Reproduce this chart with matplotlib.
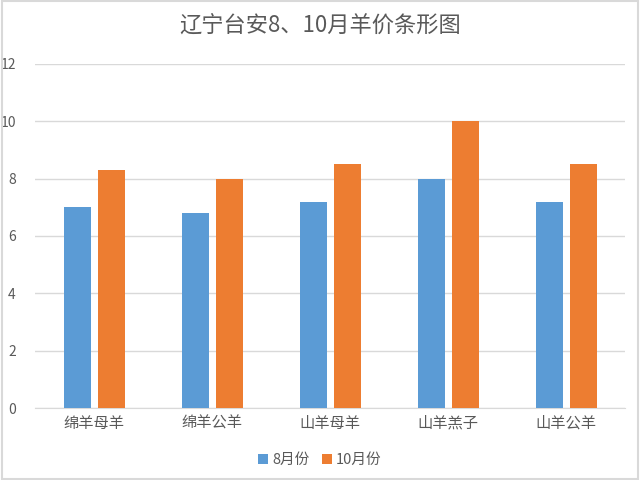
import numpy as np
import matplotlib.pyplot as plt
from matplotlib.patches import Rectangle

plt.rcParams["font.family"] = ["Noto Sans CJK SC", "DejaVu Sans"]

TITLE = "辽宁台安8、10月羊价条形图"
CATEGORIES = ["绵羊母羊", "绵羊公羊", "山羊母羊", "山羊羔子", "山羊公羊"]
AUG = [7.0, 6.8, 7.2, 8.0, 7.2]
OCT = [8.3, 8.0, 8.5, 10.0, 8.5]
SERIES_NAMES = ["8月份", "10月份"]

BLUE = "#5B9BD5"
ORANGE = "#ED7D31"
GRAY = "#595959"


def main():
    fig = plt.figure(figsize=(6.4, 4.8), dpi=100)
    ax = fig.add_axes([0.055, 0.15, 0.922, 0.717])

    x = np.arange(len(CATEGORIES))
    w = 0.23
    off = 0.145
    ax.bar(x - off, AUG, width=w, color=BLUE, label=SERIES_NAMES[0], zorder=3)
    ax.bar(x + off, OCT, width=w, color=ORANGE, label=SERIES_NAMES[1], zorder=3)

    ax.set_xlim(-0.5, len(CATEGORIES) - 0.5)
    ax.set_ylim(0, 12)
    ax.set_yticks(range(0, 13, 2))
    ax.set_xticks(x)
    ax.set_xticklabels(CATEGORIES, fontsize=11)
    ax.tick_params(axis="both", length=0, colors=GRAY)
    ax.tick_params(axis="y", labelsize=10, pad=14)
    ax.tick_params(axis="x", pad=5)
    ax.grid(True, axis="y", color="#D9D9D9", linewidth=1, zorder=0)
    for s in ["top", "right", "left"]:
        ax.spines[s].set_visible(False)
    ax.spines["bottom"].set_color("#D9D9D9")

    fig.suptitle(TITLE, y=0.97, fontsize=16, color=GRAY)
    fig.legend(loc="lower center", bbox_to_anchor=(0.5, 0.0), ncol=2, frameon=False,
               fontsize=10.5, labelcolor=GRAY, handlelength=0.7, handleheight=0.7,
               handletextpad=0.3, columnspacing=0.8)

    fig.patches.append(Rectangle((0.003, 0.003), 0.994, 0.994, transform=fig.transFigure,
                                 fill=False, edgecolor="#D9D9D9", linewidth=1.5))

    fig.savefig("out.png", dpi=100)


if __name__ == "__main__":
    main()
